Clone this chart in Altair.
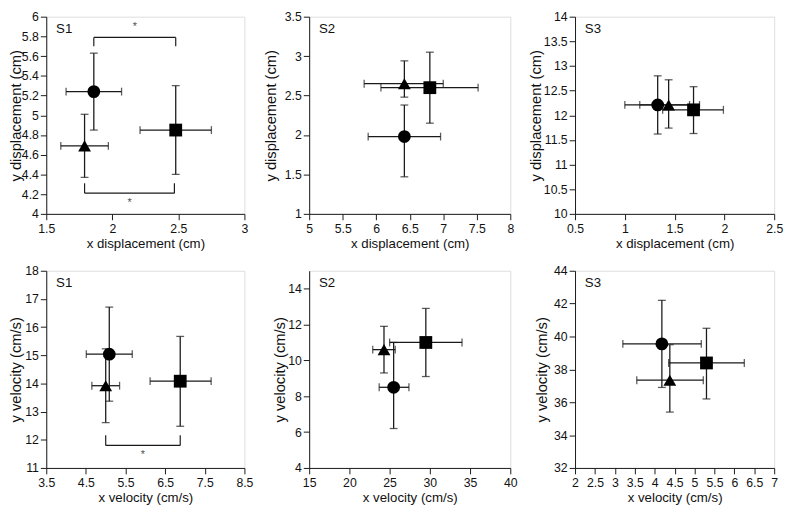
import altair as alt
import pandas as pd

# ---- data -------------------------------------------------------------
shapes = ["circle", "triangle-up", "square"]

# S1 displacement
p1_x = [1.86, 1.79, 2.48]; p1_xlo = [1.65, 1.61, 2.21]; p1_xhi = [2.07, 1.97, 2.75]
p1_y = [5.24, 4.69, 4.85]; p1_ylo = [4.85, 4.37, 4.40]; p1_yhi = [5.63, 5.01, 5.30]
# S2 displacement
p2_x = [6.42, 6.42, 6.80]; p2_xlo = [5.88, 5.82, 6.07]; p2_xhi = [6.96, 7.00, 7.52]
p2_y = [1.98, 2.65, 2.60]; p2_ylo = [1.47, 2.48, 2.15]; p2_yhi = [2.38, 2.94, 3.05]
# S3 displacement
p3_x = [1.33, 1.44, 1.69]; p3_xlo = [1.00, 1.15, 1.38]; p3_xhi = [1.65, 1.75, 1.99]
p3_y = [12.21, 12.21, 12.11]; p3_ylo = [11.62, 11.74, 11.63]; p3_yhi = [12.80, 12.72, 12.58]
# S1 velocity
p4_x = [5.09, 5.00, 6.88]; p4_xlo = [4.51, 4.65, 6.12]; p4_xhi = [5.67, 5.35, 7.66]
p4_y = [15.04, 13.92, 14.08]; p4_ylo = [13.37, 12.61, 12.48]; p4_yhi = [16.71, 15.23, 15.67]
# S2 velocity
p5_x = [25.5, 24.3, 29.5]; p5_xlo = [23.7, 22.9, 25.0]; p5_xhi = [27.4, 25.7, 34.0]
p5_y = [8.5, 10.6, 11.0]; p5_ylo = [6.2, 9.3, 9.1]; p5_yhi = [11.0, 11.9, 12.9]
# S3 velocity
p6_x = [4.18, 4.38, 5.30]; p6_xlo = [3.20, 3.55, 4.35]; p6_xhi = [5.17, 5.22, 6.25]
p6_y = [39.55, 37.34, 38.39]; p6_ylo = [36.9, 35.4, 36.2]; p6_yhi = [42.2, 39.5, 40.5]

# significance brackets: [x_left, x_right, y_line, y_leg_end, y_star]
b1_top = [1.86, 2.48, 5.79, 5.70, 5.89]
b1_bot = [1.79, 2.47, 4.21, 4.31, 4.11]
b4_bot = [5.00, 6.88, 11.80, 12.16, 11.45]

FONT = "Liberation Sans"
H = 201
INK = "#1a1a1a"


def rng(a, b, s):
    out = []
    k = 0
    while a + k * s <= b + 1e-9:
        out.append(round(a + k * s, 4))
        k += 1
    return out


def panel(label, xs, xlo, xhi, ys, ylo, yhi, xdom, ydom, xticks, yticks,
          xtitle, ytitle, yext, width, brackets=()):
    df = pd.DataFrame({"shape": shapes, "x": xs, "xlo": xlo, "xhi": xhi,
                       "y": ys, "ylo": ylo, "yhi": yhi})
    xsc = alt.Scale(domain=xdom, nice=False, zero=False)
    ysc = alt.Scale(domain=ydom, nice=False, zero=False)
    common = dict(grid=False, tickSize=6, labelFontSize=12.5, labelFont=FONT,
                  titleFont=FONT, labelColor="#111", titleColor="#111",
                  domainColor=INK, tickColor=INK, labelFlush=False,
                  labelOverlap=False, titleFontWeight="normal",
                  labelExpr="format(datum.value, '~g')")
    xax = alt.Axis(values=xticks, title=xtitle, labelPadding=3, titlePadding=2,
                   titleFontSize=13.5, **common)
    yax = alt.Axis(values=yticks, title=ytitle, labelPadding=2, titlePadding=0,
                   titleFontSize=15, minExtent=yext, maxExtent=yext, **common)

    def X(f):
        return alt.X(f, type="quantitative", scale=xsc, axis=xax)

    def Y(f):
        return alt.Y(f, type="quantitative", scale=ysc, axis=yax)

    base = alt.Chart(df)
    hbar = base.mark_rule(color=INK, strokeWidth=1.3).encode(
        x=X("xlo"), x2="xhi:Q", y=Y("y"))
    vbar = base.mark_rule(color=INK, strokeWidth=1.3).encode(
        x=X("x"), y=Y("ylo"), y2="yhi:Q")
    tick = dict(color=INK, thickness=1.3, size=8)
    capx_l = base.mark_tick(orient="vertical", **tick).encode(x=X("xlo"), y=Y("y"))
    capx_r = base.mark_tick(orient="vertical", **tick).encode(x=X("xhi"), y=Y("y"))
    capy_l = base.mark_tick(orient="horizontal", **tick).encode(x=X("x"), y=Y("ylo"))
    capy_h = base.mark_tick(orient="horizontal", **tick).encode(x=X("x"), y=Y("yhi"))
    pts = base.mark_point(filled=True, color="#000", opacity=1, size=170).encode(
        x=X("x"), y=Y("y"),
        shape=alt.Shape("shape:N", scale=alt.Scale(domain=shapes, range=shapes),
                        legend=None))
    txt = alt.Chart(pd.DataFrame({"t": [label]})).mark_text(
        align="left", baseline="top", font=FONT, fontSize=13.5, color="#111"
    ).encode(x=alt.value(10), y=alt.value(6), text="t:N")
    layers = [hbar, vbar, capx_l, capx_r, capy_l, capy_h, pts, txt]
    for b in brackets:
        bdf = pd.DataFrame({"x1": [b[0]], "x2": [b[1]], "y": [b[2]], "yl": [b[3]],
                            "ys": [b[4]], "xm": [(b[0] + b[1]) / 2], "s": ["*"]})
        bc = alt.Chart(bdf)
        layers.append(bc.mark_rule(color=INK, strokeWidth=1.2).encode(
            x=X("x1"), x2="x2:Q", y=Y("y")))
        layers.append(bc.mark_rule(color=INK, strokeWidth=1.2).encode(
            x=X("x1"), y=Y("y"), y2="yl:Q"))
        layers.append(bc.mark_rule(color=INK, strokeWidth=1.2).encode(
            x=X("x2"), y=Y("y"), y2="yl:Q"))
        layers.append(bc.mark_text(font=FONT, fontSize=11, color="#555",
                                   baseline="middle").encode(
            x=X("xm"), y=Y("ys"), text="s:N"))
    return alt.layer(*layers).properties(width=width, height=H)


dx, dy = "x displacement (cm)", "y displacement (cm)"
vx, vy = "x velocity (cm/s)", "y velocity (cm/s)"
W1, W2, W3 = 202, 205, 203

c1 = panel("S1", p1_x, p1_xlo, p1_xhi, p1_y, p1_ylo, p1_yhi, [1.5, 3], [4, 6],
           rng(1.5, 3, 0.5), rng(4, 6, 0.2), dx, dy, 23, W1, [b1_top, b1_bot])
c2 = panel("S2", p2_x, p2_xlo, p2_xhi, p2_y, p2_ylo, p2_yhi, [5, 8], [1, 3.5],
           rng(5, 8, 0.5), rng(1, 3.5, 0.5), dx, dy, 31, W2)
c3 = panel("S3", p3_x, p3_xlo, p3_xhi, p3_y, p3_ylo, p3_yhi, [0.5, 2.5], [10, 14],
           rng(0.5, 2.5, 0.5), rng(10, 14, 0.5), dx, dy, 32, W3)
c4 = panel("S1", p4_x, p4_xlo, p4_xhi, p4_y, p4_ylo, p4_yhi, [3.5, 8.5], [11, 18],
           rng(3.5, 8.5, 1), rng(11, 18, 1), vx, vy, 23, W1, [b4_bot])
c5 = panel("S2", p5_x, p5_xlo, p5_xhi, p5_y, p5_ylo, p5_yhi, [15, 40], [4, 15],
           rng(15, 40, 5), rng(4, 14, 2), vx, vy, 22, W2)
c6 = panel("S3", p6_x, p6_xlo, p6_xhi, p6_y, p6_ylo, p6_yhi, [2, 7], [32, 44],
           rng(2, 7, 0.5), rng(32, 44, 2), vx, vy, 26, W3)

chart = alt.concat(c1, c2, c3, c4, c5, c6, columns=3, bounds="flush",
                   align="each",
                   spacing={"row": 58, "column": 66}).properties(
    padding={"top": -3, "left": 0, "right": 0, "bottom": 0}
).configure_view(stroke=INK, strokeWidth=1.2).configure_axis(
    labelOverlap=False
).configure(background="white")

chart.save("out.html", embed_options={"renderer": "svg", "actions": False})
